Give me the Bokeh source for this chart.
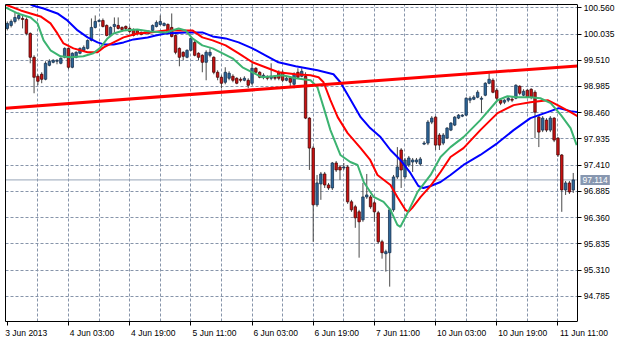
import numpy as np
from bokeh.plotting import figure
from bokeh.models import Range1d, FixedTicker, Label, Span, LinearAxis, BoxAnnotation
from bokeh.embed import file_html
from bokeh.resources import INLINE

# ---- data (hourly candles, bar index 0 = 3 Jun 2013 11:00) ----
opens = [100.147,100.207,100.287,100.347,100.347,100.327,100.047,99.569,99.189,99.229,
         99.129,99.409,99.469,99.489,99.449,99.569,99.747,99.369,99.569,99.649,
         99.709,99.747,99.907,100.167,100.287,100.307,100.207,100.007,100.187,100.207,
         100.167,100.187,100.147,100.127,100.107,100.067,100.067,100.047,100.107,100.187,
         100.227,100.207,100.227,100.167,100.007,99.747,99.669,99.569,99.709,99.867,
         99.649,99.609,99.469,99.609,99.569,99.269,99.169,99.069,99.149,99.189,
         99.149,99.129,99.109,99.109,99.049,99.349,99.269,99.169,99.169,99.149,
         99.169,99.269,99.269,99.109,99.149,99.029,99.269,99.189,99.189,98.351,
         97.751,96.615,97.033,97.233,97.013,96.953,97.453,97.373,97.353,97.373,
         96.675,96.575,96.475,96.315,96.773,96.773,96.655,96.455,95.875,95.637,
         95.657,96.515,97.173,97.713,97.173,97.413,97.473,97.473,97.433,97.831,
         97.851,98.271,98.371,98.011,97.851,97.951,98.111,98.211,98.351,98.391,
         98.411,98.711,98.729,98.769,98.729,98.809,99.049,99.109,98.909,98.711,
         98.671,98.711,98.729,98.749,98.989,98.809,98.909,98.929,98.869,98.371,
         98.111,98.311,98.111,98.351,97.951,97.613,96.913,97.053,96.913]
highs = [100.287,100.327,100.467,100.467,100.407,100.367,100.067,99.609,99.229,99.269,
         99.489,99.529,99.529,99.529,99.569,99.767,99.767,99.669,99.689,99.767,
         99.807,99.927,100.347,100.407,100.327,100.347,100.227,100.187,100.367,100.367,
         100.187,100.207,100.187,100.147,100.127,100.087,100.087,100.107,100.227,100.307,
         100.407,100.267,100.247,100.447,100.027,99.767,99.689,99.727,99.967,99.907,
         99.669,99.629,99.709,99.747,99.589,99.309,99.209,99.369,99.289,99.229,
         99.169,99.169,99.189,99.149,99.449,99.369,99.289,99.249,99.209,99.449,
         99.209,99.309,99.309,99.189,99.189,99.269,99.349,99.349,99.269,98.371,
         97.791,97.213,97.273,97.273,97.053,97.473,97.493,97.413,97.453,97.413,
         96.715,96.615,96.515,97.053,97.233,96.813,96.695,96.495,95.915,95.717,
         96.555,97.213,97.771,97.751,97.553,97.593,97.553,97.553,97.573,97.891,
         98.311,98.391,98.391,98.051,98.051,98.171,98.271,98.391,98.431,98.431,
         98.769,98.789,98.809,98.909,98.789,99.069,99.249,99.149,98.949,98.729,
         98.729,98.789,98.789,99.029,99.009,98.929,98.929,98.949,98.909,98.411,
         98.391,98.351,98.391,98.371,97.971,97.633,97.093,97.093,97.253]
lows = [100.107,100.167,100.247,100.307,100.147,100.007,99.449,98.849,99.009,99.049,
        99.109,99.389,99.449,99.429,99.429,99.549,99.329,99.349,99.549,99.629,
        99.689,99.727,99.887,100.147,100.267,100.167,99.987,99.987,100.067,100.127,
        100.087,100.107,100.047,99.987,100.007,100.007,100.027,100.027,100.087,100.167,
        100.207,100.187,100.047,99.967,99.629,99.389,99.509,99.549,99.689,99.589,
        99.509,99.269,99.109,99.569,99.229,99.109,98.949,99.029,99.109,99.069,
        99.029,99.069,99.089,98.949,99.009,99.249,99.149,99.129,99.109,99.109,
        99.109,99.109,99.069,99.089,98.989,98.949,99.149,99.169,98.331,97.313,
        95.875,96.575,96.715,96.953,96.913,96.913,97.273,97.113,97.313,96.635,
        96.475,96.155,95.557,96.275,96.733,96.535,96.275,95.835,95.537,95.277,
        94.977,96.475,97.133,96.953,97.133,97.373,97.273,97.433,97.393,97.811,
        97.811,98.231,97.713,97.713,97.811,97.931,98.091,98.191,98.331,98.371,
        98.391,98.651,98.711,98.749,98.451,98.789,99.029,98.849,98.711,98.611,
        98.631,98.671,98.671,98.729,98.809,98.789,98.749,98.729,97.951,97.771,
        98.071,98.071,98.071,97.871,97.573,96.475,96.813,96.833,96.853]
closes = [100.247,100.287,100.367,100.407,100.327,100.047,99.569,99.169,99.089,99.129,
          99.449,99.489,99.509,99.509,99.549,99.747,99.369,99.649,99.669,99.747,
          99.767,99.907,100.167,100.287,100.307,100.187,100.007,100.167,100.227,100.147,
          100.127,100.147,100.087,100.007,100.047,100.027,100.047,100.087,100.207,100.267,
          100.287,100.247,100.067,99.987,99.669,99.569,99.589,99.709,99.947,99.609,
          99.569,99.469,99.669,99.669,99.269,99.169,99.049,99.269,99.249,99.109,
          99.049,99.109,99.149,99.009,99.349,99.269,99.169,99.209,99.149,99.189,
          99.149,99.149,99.109,99.149,99.069,99.229,99.169,99.289,98.351,97.751,
          96.615,97.053,97.233,97.013,96.953,97.453,97.313,97.313,97.373,96.675,
          96.515,96.355,96.275,96.773,96.813,96.575,96.475,95.875,95.657,95.677,
          96.515,97.173,97.373,97.313,97.513,97.553,97.513,97.513,97.533,97.851,
          98.271,98.351,97.811,97.811,98.011,98.151,98.251,98.371,98.411,98.411,
          98.749,98.749,98.769,98.869,98.749,99.049,99.129,98.869,98.749,98.651,
          98.711,98.749,98.711,99.009,98.849,98.889,98.769,98.769,98.471,98.071,
          98.351,98.111,98.351,97.911,97.613,96.913,97.053,96.873,97.114]

# moving averages (bar position, price)
ma_slow_x = [3.5,6.6,9.5,13.1,15.7,18.4,21.0,23.6,25.2,27.8,30.4,33.0,36.7,38.8,41.4,46.6,51.0,53.7,
             57.1,60.5,64.1,67.5,70.9,75.4,81.1,85.3,87.1,89.7,92.4,94.9,97.6,100.2,102.8,105.4,
             107.5,108.8,110.7,113.3,115.9,119.3,123.7,128.2,132.4,136.8,141.3,144.2,147.3,149.1]
ma_slow_y = [100.727,100.607,100.547,100.447,100.307,100.107,99.967,99.867,99.827,99.827,99.867,
             99.927,99.967,100.007,100.047,100.067,100.067,99.987,99.947,99.867,99.747,99.609,
             99.469,99.389,99.309,99.229,99.069,98.729,98.371,98.151,97.971,97.713,97.513,97.253,
             96.993,96.953,96.993,97.073,97.213,97.413,97.613,97.851,98.111,98.351,98.471,98.551,
             98.491,98.471]
ma_mid_x = [-0.5,3.5,6.1,8.7,11.3,13.1,14.7,17.3,21.0,23.6,25.2,27.8,30.4,34.0,37.4,41.4,44.8,48.4,
            51.0,53.7,57.1,60.5,64.1,67.5,70.9,75.4,79.3,81.4,82.7,84.5,86.4,89.0,92.4,94.9,96.8,
            100.2,102.0,104.1,104.9,105.9,108.1,110.7,113.3,115.9,119.3,123.7,128.2,132.4,136.8,
            141.3,143.9,147.3,149.1]
ma_mid_y = [100.627,100.507,100.447,100.387,100.247,100.047,99.847,99.747,99.669,99.669,99.767,
            99.867,99.967,100.047,100.067,100.107,100.107,100.107,99.967,99.907,99.807,99.649,
            99.469,99.369,99.269,99.229,99.209,99.169,99.069,98.711,98.371,98.051,97.751,97.513,
            97.213,97.013,96.773,96.515,96.475,96.555,96.773,96.993,97.273,97.573,97.751,98.111,
            98.451,98.611,98.671,98.711,98.611,98.471,98.391]
ma_fast_x = [-0.5,2.7,6.1,7.9,9.5,11.3,13.9,16.5,19.9,22.5,24.4,26.2,27.8,30.4,34.0,37.4,41.4,44.8,
             46.6,48.4,51.0,53.7,56.3,58.9,61.5,64.1,66.7,69.4,72.0,75.4,79.3,81.1,82.7,84.5,87.1,
             89.7,91.6,93.2,95.8,98.4,100.2,102.0,102.8,104.7,107.3,110.7,113.3,115.9,119.3,123.7,
             128.2,130.8,133.4,136.8,139.4,142.1,144.8,147.3,148.9]
ma_fast_y = [100.567,100.447,100.367,100.247,99.907,99.709,99.589,99.569,99.589,99.649,99.767,
             99.947,100.047,100.107,100.127,100.087,100.067,100.147,100.107,99.947,99.807,99.747,
             99.649,99.549,99.369,99.269,99.169,99.189,99.209,99.149,99.109,98.969,98.571,98.111,
             97.613,97.473,97.413,97.073,96.773,96.675,96.515,96.215,96.175,96.455,96.873,97.213,
             97.573,97.771,97.971,98.311,98.709,98.789,98.769,98.769,98.749,98.651,98.411,98.151,
             97.811]

trend_x = [-0.5, 149.1]
trend_y = [98.551, 99.397]
bid_price = 97.114

y_ticks = [100.560,100.035,99.510,98.985,98.460,97.935,97.410,96.885,96.360,95.835,95.310,94.785]
x_ticks = [0,16,32,48,64,80,96,112,128,144]
x_labels = ["3 Jun 2013","4 Jun 03:00","4 Jun 19:00","5 Jun 11:00","6 Jun 03:00",
            "6 Jun 19:00","7 Jun 11:00","10 Jun 03:00","10 Jun 19:00","11 Jun 11:00"]
grid_x = list(range(8, 149, 8))

FONT = "Liberation Sans"
FS = 8.5
NB = "\u00a0"
X_LEFT = -0.47
X_RIGHT = 149.1          # right edge of the chart area (price scale sits here)
X_END = X_LEFT + 622 / 3.824   # canvas right edge, keeps 3.824 px per bar

def _w(ch):
    return {" ": 0.278, ":": 0.278, ".": 0.278, "J": 0.5}.get(ch, 0.556)

def left_aligned(s, first=False):
    # MT4 prints time labels to the right of their tick
    if first:
        return NB * 2 + s
    w = sum(_w(ch) for ch in s) + 0.25
    return NB * int(round(w / 0.278)) + s

def price_label(t):
    s = f"{t:.3f}"
    return s + NB * (2 * (7 - len(s)))

# ---- figure ----
p = figure(width=627, height=340, output_backend="svg", toolbar_location=None,
           x_range=Range1d(X_LEFT, X_END), y_range=Range1d(94.279, 100.626),
           y_axis_location="left", x_axis_location="below",
           min_border_left=5, min_border_right=0, min_border_top=4, min_border_bottom=18)
p.background_fill_color = "white"
p.border_fill_color = "white"
p.outline_line_color = None

def style_axis(ax):
    ax.axis_line_color = "black"
    ax.axis_line_width = 1
    ax.major_tick_line_color = "black"
    ax.minor_tick_line_color = None
    ax.minor_tick_in = 0
    ax.minor_tick_out = 0
    ax.major_label_text_font = FONT
    ax.major_label_text_font_size = f"{FS}px"
    ax.major_label_text_color = "black"

# time axis (bottom edge of the chart area)
xa = p.xaxis[0]
style_axis(xa)
xa.bounds = (X_LEFT, X_RIGHT)
xa.major_tick_in = 0
xa.major_tick_out = 4
xa.major_label_standoff = 2
xa.ticker = FixedTicker(ticks=x_ticks)
xa.major_label_overrides = {t: left_aligned(l, i == 0) for i, (t, l) in enumerate(zip(x_ticks, x_labels))}

# price scale on the right edge of the chart area
ya = p.yaxis[0]
style_axis(ya)
ya.fixed_location = X_RIGHT
ya.major_tick_in = 4
ya.major_tick_out = 0
ya.major_label_standoff = -37
ya.ticker = FixedTicker(ticks=y_ticks)
ya.major_label_overrides = {t: price_label(t) for t in y_ticks}

# left and top edges of the chart area
left_edge = LinearAxis(ticker=FixedTicker(ticks=[]))
style_axis(left_edge)
left_edge.major_tick_in = 0
left_edge.major_tick_out = 0
left_edge.major_label_standoff = 0
p.add_layout(left_edge, "left")
top_edge = LinearAxis(ticker=FixedTicker(ticks=[]), bounds=(X_LEFT, X_RIGHT))
style_axis(top_edge)
top_edge.major_tick_in = 0
top_edge.major_tick_out = 0
top_edge.major_label_standoff = 0
p.add_layout(top_edge, "above")

p.xgrid.ticker = FixedTicker(ticks=grid_x)
p.ygrid.ticker = FixedTicker(ticks=y_ticks)
for g in (p.xgrid[0], p.ygrid[0]):
    g.grid_line_color = "#8795aa"
    g.grid_line_dash = "3 2"
    g.grid_line_width = 1

p.add_layout(Span(location=bid_price, dimension="width", line_color="#97a5b7",
                  line_width=1, level="underlay"))
# blank price-scale column to the right of the chart area
p.add_layout(BoxAnnotation(left=X_RIGHT, fill_color="white", fill_alpha=1.0,
                           line_color=None, level="underlay"))

idx = np.arange(len(opens))
o = np.array(opens); c = np.array(closes); h = np.array(highs); l = np.array(lows)
inc = c >= o
dec = ~inc

p.segment(x0=idx, y0=h, x1=idx, y1=l, line_color="#4a4a4a", line_width=1)
p.vbar(x=idx[inc], width=0.64, top=c[inc], bottom=o[inc],
       fill_color="#2c6698", line_color="#1a3350", line_width=0.8)
p.vbar(x=idx[dec], width=0.64, top=o[dec], bottom=c[dec],
       fill_color="#cc1111", line_color="#4a0808", line_width=0.8)

p.line(ma_slow_x, ma_slow_y, line_color="#0000ff", line_width=2)
p.line(ma_mid_x, ma_mid_y, line_color="#ff0000", line_width=2)
p.line(ma_fast_x, ma_fast_y, line_color="#3cb371", line_width=2)
p.line(trend_x, trend_y, line_color="#ff0000", line_width=3)

# current bid price tag on the price scale
p.add_layout(Label(x=X_RIGHT, y=bid_price, x_offset=3, text=f"{bid_price:.3f}",
                   text_color="white", text_font=FONT, text_font_size=f"{FS}px",
                   text_baseline="middle", text_align="left",
                   background_fill_color="#8797b0", padding=2))

open("out.html", "w").write(file_html(p, INLINE))
